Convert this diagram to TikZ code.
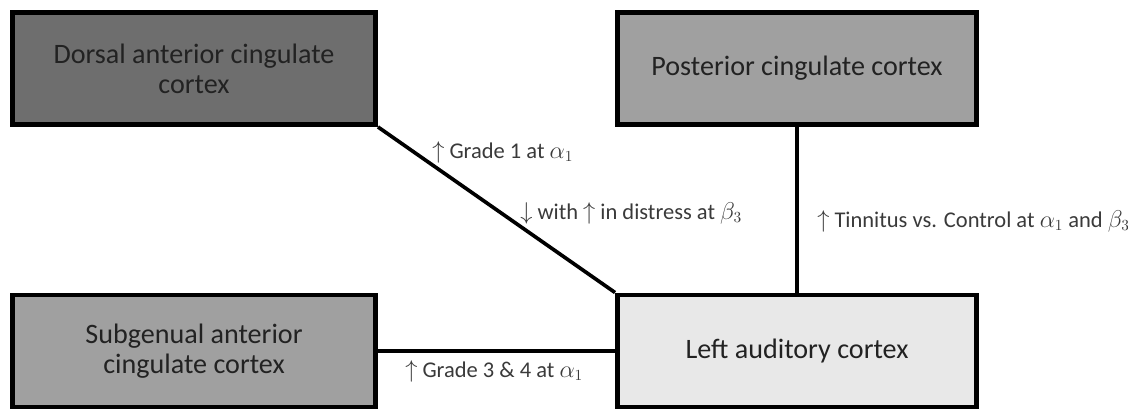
\documentclass[tikz,border=0pt]{standalone}
\usepackage{fontspec}
\setmainfont{Carlito}
\usetikzlibrary{positioning}

\definecolor{darkfill}{HTML}{6E6E6E}
\definecolor{midfill}{HTML}{A0A0A0}
\definecolor{lightfill}{HTML}{E8E8E8}
\definecolor{boxtext}{HTML}{222222}
\definecolor{labeltext}{HTML}{3A3A3A}

\begin{document}
\begin{tikzpicture}[
    region/.style={draw, line width=3.5pt, minimum height=2.8cm, inner sep=0pt, align=center, text=boxtext, font=\fontsize{20}{21.5}\selectfont},
    link/.style={line width=2.6pt},
    finding/.style={anchor=west, text=labeltext, inner sep=0pt, font=\fontsize{16}{19}\selectfont}
]

    \useasboundingbox (0, 0) rectangle (28.2, 10.325);

    \node[region, fill=darkfill, minimum width=9.075cm] (dacc) at (4.85, 8.6125) {Dorsal anterior cingulate\\cortex};
    \node[region, fill=midfill, minimum width=8.975cm] (pcc) at (19.925, 8.6125) {Posterior cingulate cortex};
    \node[region, fill=midfill, minimum width=9.075cm] (sgacc) at (4.85, 1.55) {Subgenual anterior\\cingulate cortex};
    \node[region, fill=lightfill, minimum width=8.975cm] (lac) at (19.925, 1.55) {Left auditory cortex};

    \draw[link] (dacc.south east) -- (lac.north west);
    \draw[link] (pcc.south) -- (lac.north);
    \draw[link] (sgacc.east) -- (lac.west);

    \node[finding] (grade1) at (10.8, 6.525) {$\uparrow$ Grade 1 at $\alpha_1$};
    \node[finding] (distress) at (13.0, 5.0) {$\downarrow$ with $\uparrow$ in distress at $\beta_3$};
    \node[finding] (tinnitus) at (20.425, 4.8) {$\uparrow$ Tinnitus vs. Control at $\alpha_1$ and $\beta_3$};
    \node[finding] (grade34) at (10.125, 1.05) {$\uparrow$ Grade 3 \& 4 at $\alpha_1$};

\end{tikzpicture}
\end{document}
